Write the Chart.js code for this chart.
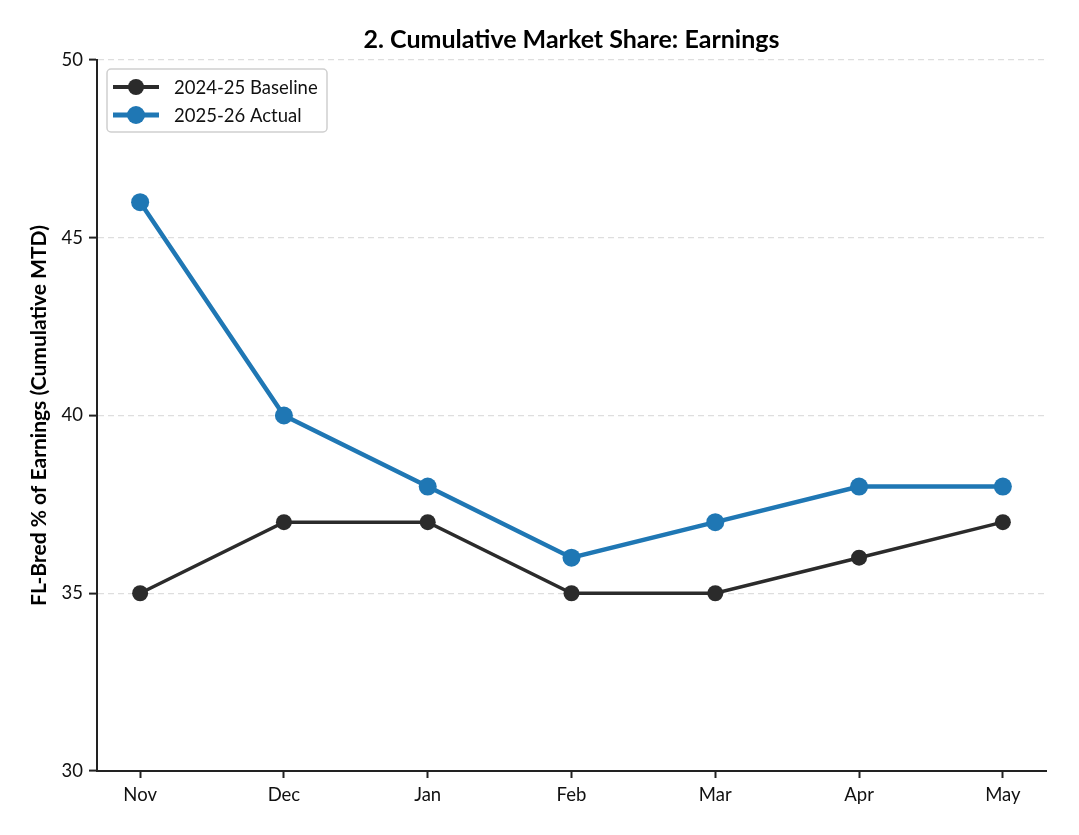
<!DOCTYPE html>
<html>
<head>
<meta charset="utf-8">
<script src="https://cdn.jsdelivr.net/npm/chart.js@4/dist/chart.umd.min.js"></script>
<style>
  html, body { margin: 0; padding: 0; background: #fff; }
  #wrap { width: 1079px; height: 835px; }
</style>
</head>
<body>
<div id="wrap"><canvas id="linechart" width="1079" height="835"></canvas></div>
<script>
const months = ['Nov', 'Dec', 'Jan', 'Feb', 'Mar', 'Apr', 'May'];
const baseline = [35, 37, 37, 35, 35, 36, 37];
const actual = [46, 40, 38, 36, 37, 38, 38];
const yTicks = [30, 35, 40, 45, 50];

const chartTitle = '2. Cumulative Market Share: Earnings';
const FONT = 'Lato, "DejaVu Sans", sans-serif';

// title centred over the plot area + legend box inside it
const overlay = {
    id: 'overlay',
    afterDraw(chart) {
        const ctx = chart.ctx;
        const area = chart.chartArea;
        ctx.save();
        ctx.fillStyle = '#000';
        ctx.font = 'bold 25px ' + FONT;
        ctx.textAlign = 'center';
        ctx.textBaseline = 'middle';
        ctx.fillText(chartTitle, (area.left + area.right) / 2, 40);

        // legend
        const x0 = 107, y0 = 69, w = 220, h = 63;
        ctx.beginPath();
        ctx.roundRect(x0, y0, w, h, 4);
        ctx.fillStyle = 'rgba(255,255,255,0.85)';
        ctx.fill();
        ctx.strokeStyle = '#cfcfcf';
        ctx.lineWidth = 1.5;
        ctx.stroke();

        chart.data.datasets.forEach(function(ds, i) {
            const cy = 87 + i * 28;
            ctx.strokeStyle = ds.borderColor;
            ctx.lineWidth = ds.borderWidth + 0.5;
            ctx.beginPath();
            ctx.moveTo(113, cy);
            ctx.lineTo(159, cy);
            ctx.stroke();
            ctx.beginPath();
            ctx.arc(136, cy, ds.pointRadius, 0, Math.PI * 2);
            ctx.fillStyle = ds.pointBackgroundColor;
            ctx.fill();
            ctx.fillStyle = '#111';
            ctx.font = '18.5px ' + FONT;
            ctx.textAlign = 'left';
            ctx.fillText(ds.label, 174, cy + 1);
        });
        ctx.restore();
    }
};

const ctx = document.getElementById('linechart').getContext('2d');
new Chart(ctx, {
    type: 'line',
    data: {
        datasets: [
            {
                label: '2024-25 Baseline',
                data: baseline.map((v, i) => ({ x: i, y: v })),
                borderColor: '#2b2b2b',
                backgroundColor: '#2b2b2b',
                pointBackgroundColor: '#2b2b2b',
                pointBorderColor: '#2b2b2b',
                borderWidth: 3.5,
                pointRadius: 8,
                pointBorderWidth: 0,
                tension: 0
            },
            {
                label: '2025-26 Actual',
                data: actual.map((v, i) => ({ x: i, y: v })),
                borderColor: '#1f77b4',
                backgroundColor: '#1f77b4',
                pointBackgroundColor: '#1f77b4',
                pointBorderColor: '#1f77b4',
                borderWidth: 4.5,
                pointRadius: 9,
                pointBorderWidth: 0,
                tension: 0
            }
        ]
    },
    options: {
        responsive: false,
        animation: false,
        layout: { padding: { top: 60, right: 33, left: 0, bottom: 0 } },
        plugins: {
            legend: { display: false },
            title: { display: false },
            tooltip: { enabled: false }
        },
        scales: {
            x: {
                type: 'linear',
                min: -0.3,
                max: 6.3,
                afterBuildTicks: function(scale) {
                    scale.ticks = months.map((m, i) => ({ value: i }));
                },
                afterFit: function(scale) { scale.height = 64; },
                ticks: {
                    callback: function(value) { return months[value]; },
                    color: '#111',
                    font: { family: FONT, size: 18.5 },
                    padding: 6,
                    maxRotation: 0
                },
                grid: {
                    drawOnChartArea: false,
                    drawTicks: true,
                    tickLength: 7,
                    tickColor: '#222',
                    tickWidth: 2
                },
                border: { display: true, color: '#222', width: 2 }
            },
            y: {
                min: 30,
                max: 50,
                afterBuildTicks: function(scale) {
                    scale.ticks = yTicks.map(v => ({ value: v }));
                },
                afterFit: function(scale) { scale.width = 97; },
                ticks: {
                    color: '#111',
                    font: { family: FONT, size: 18.5 },
                    padding: 6
                },
                grid: {
                    color: '#dedede',
                    lineWidth: 1.2,
                    drawTicks: true,
                    tickLength: 8,
                    tickColor: '#222',
                    tickWidth: 2,
                    tickBorderDash: []
                },
                border: { display: true, color: '#222', width: 2, dash: [6, 4] },
                title: {
                    display: true,
                    text: 'FL-Bred % of Earnings (Cumulative MTD)',
                    color: '#000',
                    font: { family: FONT, size: 21, weight: 'bold' },
                    padding: { top: 27, bottom: 0 }
                }
            }
        }
    },
    plugins: [overlay]
});
</script>
</body>
</html>
